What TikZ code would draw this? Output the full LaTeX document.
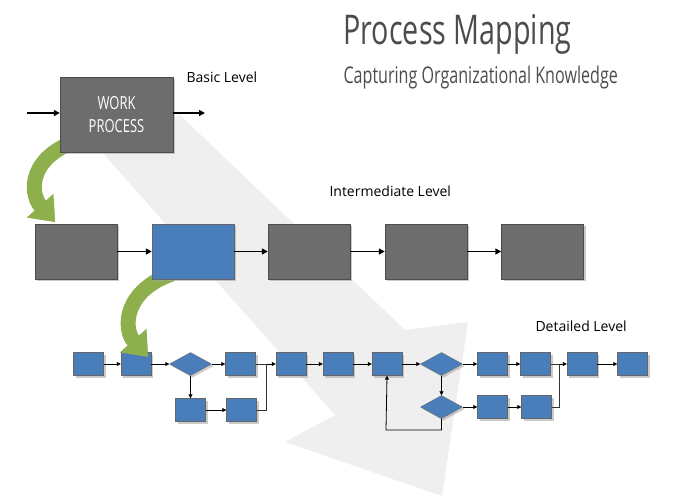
\documentclass[tikz,border=0pt]{standalone}
\usepackage{fontspec}
\setmainfont{Open Sans}
\newfontfamily\titlefont[FakeStretch=0.7]{Open Sans}
\newfontfamily\boxfont[FakeStretch=0.72]{Open Sans}
\usetikzlibrary{shapes.geometric,arrows.meta,shadows}
\definecolor{gbox}{HTML}{6D6D6D}
\definecolor{bbox}{HTML}{4A7EBB}
\definecolor{grn}{HTML}{8DB04C}
\definecolor{bg}{HTML}{EFEFEF}
\tikzset{
 shd/.style={drop shadow={shadow xshift=2pt,shadow yshift=-2pt,fill=black!35,opacity=.6}},
 bigg/.style={draw=black!70,fill=gbox,minimum width=82pt,minimum height=55pt,shd},
 bigb/.style={bigg,fill=bbox,draw=black!60},
 sb/.style={draw=black!60,fill=bbox,minimum width=30pt,minimum height=23pt,shd,inner sep=0},
 sd/.style={diamond,aspect=1.8,draw=black!60,fill=bbox,minimum width=42pt,minimum height=23pt,inner sep=0,shd},
 ar/.style={-{Triangle[length=6pt,width=6pt]},line width=1.4pt},
 sar/.style={-{Triangle[length=4pt,width=4pt]},line width=.8pt},
 ln/.style={line width=.6pt,draw=black!80},
 greenarrow/.style={line width=15pt,draw=grn,-{Triangle[length=22pt,width=34pt]}},
 lvl/.style={anchor=west,font=\fontsize{14}{16}\selectfont}
}
\begin{document}
\begin{tikzpicture}[x=1pt,y=-1pt]
\useasboundingbox (0,0) rectangle (678,503);
% background arrow
\fill[bg] (100,150) -- (180,115) -- (405,330) -- (468,322) -- (442,496) -- (285,442) -- (335,415) -- cycle;
% title
\node[anchor=west,text=black!70,font=\titlefont\fontsize{41}{44}\selectfont] (t1) at (340,34) {Process Mapping};
\node[anchor=west,text=black!70,font=\titlefont\fontsize{23}{26}\selectfont] (t2) at (340,78) {Capturing Organizational Knowledge};
% green arrows (behind boxes)
\draw[greenarrow] (80,140) .. controls (30,155) and (28,192) .. (55,222);
\draw[greenarrow] (172,274) .. controls (125,290) and (122,328) .. (148,357);
% basic
\node[bigg,minimum width=113pt,minimum height=75pt,align=center,text=white,font=\boxfont\fontsize{18}{23}\selectfont] (wp) at (116.5,114.5) {WORK\\PROCESS};
\coordinate (in) at (27,113);
\coordinate (out) at (205,113);
\draw[ar] (in) -- (wp.west |- in);
\draw[ar] (wp.east |- out) -- (out);
\node[lvl] (bl) at (183,77) {Basic Level};
\node[lvl] (il) at (326,191) {Intermediate Level};
\node[lvl] (dl) at (532,326) {Detailed Level};
% intermediate
\node[bigg] (i1) at (76,251.5) {};
\node[bigb] (i2) at (193,251.5) {};
\node[bigg] (i3) at (309,251.5) {};
\node[bigg] (i4) at (426,251.5) {};
\node[bigg] (i5) at (542.5,251.5) {};
\foreach \a/\b in {i1/i2,i2/i3,i3/i4,i4/i5} \draw[ar] (\a) -- (\b);
% redraw green tips over intermediate/detailed boxes
\begin{scope}
\clip (0,200) rectangle (678,240);
\draw[greenarrow] (80,140) .. controls (30,155) and (28,192) .. (55,222);
\end{scope}
% detailed
\node[sb] (a1) at (88.5,364) {};
\node[sb] (a2) at (136,364) {};
\node[sd] (d1) at (190.5,364) {};
\node[sb] (a3) at (240.5,364) {};
\node[sb] (a4) at (291,364) {};
\node[sb] (a5) at (338,364) {};
\node[sb] (a6) at (387,364) {};
\node[sd] (d2) at (441.5,364) {};
\node[sb] (a7) at (492.5,364) {};
\node[sb] (a8) at (535.5,364) {};
\node[sb] (a9) at (582,364) {};
\node[sb] (a10) at (632.5,364) {};
\node[sb] (b1) at (190.5,410) {};
\node[sb] (b2) at (241.5,410) {};
\node[sd] (d3) at (441.5,407) {};
\node[sb] (c1) at (492.5,407) {};
\node[sb] (c2) at (536.5,407) {};
\begin{scope}
\clip (0,335) rectangle (678,380);
\draw[greenarrow] (172,274) .. controls (125,290) and (122,328) .. (148,357);
\end{scope}
\foreach \a/\b in {a1/a2,a2/d1,d1/a3,a4/a5,a5/a6,a6/d2,d2/a7,a7/a8,a9/a10,b1/b2,d3/c1,c1/c2}
  \draw[sar] (\a) -- (\b);
\draw[sar] (d1) -- (b1);
\draw[sar] (d2) -- (d3);
\coordinate (j1) at (266,364);
\coordinate (j2) at (559,364);
\draw[ln] (a3.east) -- (j1);
\draw[sar] (j1) -- (a4.west);
\draw[ln] (b2.east) -- (b2.east -| j1) -- (j1);
\draw[ln] (a8.east) -- (j2);
\draw[sar] (j2) -- (a9.west);
\draw[ln] (c2.east) -- (c2.east -| j2) -- (j2);
\coordinate (lp) at (386,430);
\draw[sar] (d3.south) -- (d3.south |- lp) -- (lp) -- (a6.south);
\end{tikzpicture}
\end{document}
